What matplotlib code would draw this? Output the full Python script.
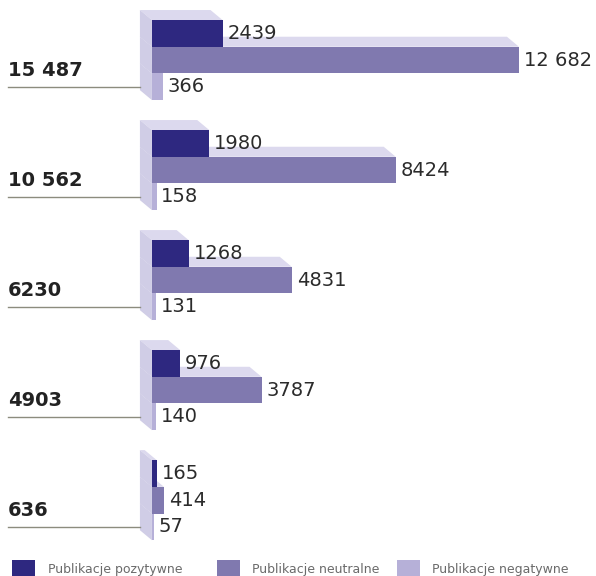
import matplotlib.pyplot as plt
from matplotlib.patches import Polygon, Rectangle
from matplotlib.transforms import blended_transform_factory

# publication counts per period, top to bottom
positive = [2439, 1980, 1268, 976, 165]
neutral = [12682, 8424, 4831, 3787, 414]
negative = [366, 158, 131, 140, 57]
series_names = ['Publikacje pozytywne', 'Publikacje neutralne', 'Publikacje negatywne']

FRONT_COLORS = ['#2e2880', '#8079af', '#b6b0d8']
SIDE = '#d0cde6'
TOP = '#dcd9ee'
TEXT = '#2b2b2b'

W, H = 596, 576
GROUP_STEP = 4.12          # rows between groups (one row = one bar)
DEPTH_X, DEPTH_Y = 12, 10  # box depth in pixels, going up-left


def fmt(n):
    # spaces as thousand separators only from five digits up
    if n >= 10000:
        return f'{n:,}'.replace(',', ' ')
    return str(n)


fig = plt.figure(figsize=(W / 100, H / 100), dpi=100)
ax = fig.add_axes([0, 0, 1, 1])
ax.set_xlim(-5250, 15345)
ax.set_ylim(20.82, -0.75)
ax.axis('off')

# depth offset converted to data units
inv = ax.transData.inverted()
px0, py0 = ax.transData.transform((0, 0))
ox, oy = inv.transform((px0 - DEPTH_X, py0 + DEPTH_Y))

fig_y = blended_transform_factory(fig.transFigure, ax.transData)

for g in range(len(positive)):
    top = g * GROUP_STEP
    values = [positive[g], neutral[g], negative[g]]

    # lowest box first so the box above covers its top face
    for k in reversed(range(3)):
        v = values[k]
        yt = top + k
        yb = yt + 1
        ax.add_patch(Polygon([(ox, yt + oy), (v + ox, yt + oy), (v, yt), (0, yt)],
                             closed=True, facecolor=TOP, linewidth=0))
        ax.add_patch(Polygon([(ox, yt + oy), (0, yt), (0, yb), (ox, yb + oy)],
                             closed=True, facecolor=SIDE, linewidth=0))
        ax.barh(yt + 0.5, v, height=1, color=FRONT_COLORS[k], linewidth=0)

    for k, v in enumerate(values):
        ax.annotate(fmt(v), (v, top + k + 0.5), xytext=(3.5, 0), textcoords='offset points',
                    ha='left', va='center', fontsize=14, color=TEXT)

    # group total with the rule underneath
    ax.text(8 / W, top + 2.1, fmt(sum(values)), transform=fig_y, ha='left', va='baseline',
            fontsize=14, fontweight='bold', color='#222222')
    ax.plot([8 / W, 140 / W], [top + 2.5, top + 2.5], transform=fig_y,
            color='#8c8c7e', lw=1)

# legend along the bottom edge
legend_x = [(12, 48), (217, 252), (397, 432)]
for (sx, tx), name, c in zip(legend_x, series_names, FRONT_COLORS):
    fig.add_artist(Rectangle((sx / W, 0), 23 / W, 16 / H, transform=fig.transFigure,
                             facecolor=c, linewidth=0))
    fig.text(tx / W, 3 / H, name, fontsize=9, color='#6a6a6a', ha='left', va='baseline')

fig.savefig('out.png', dpi=100)
